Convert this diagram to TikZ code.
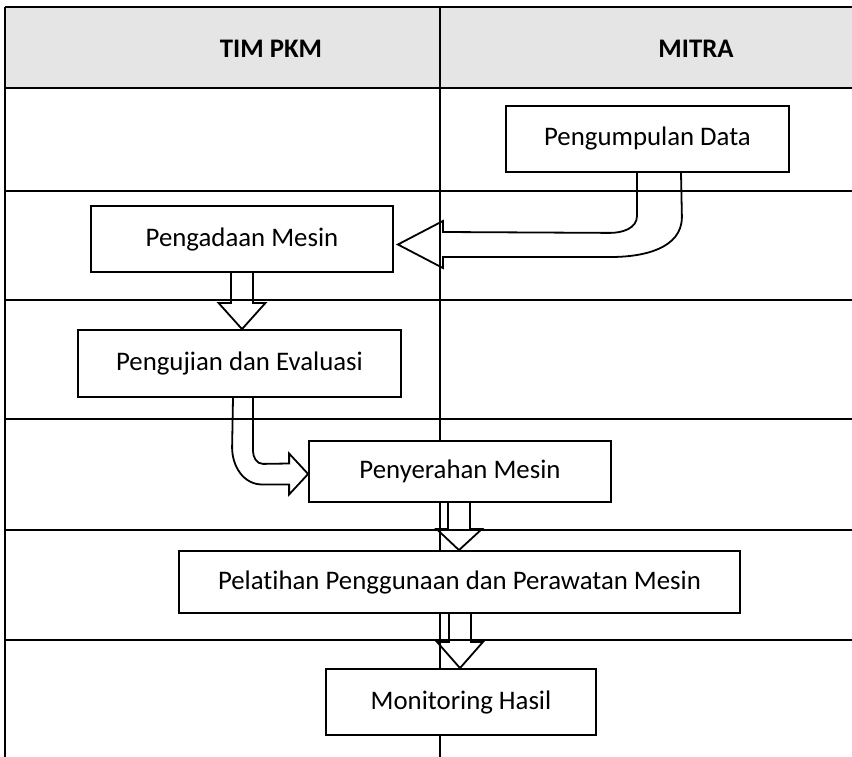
\documentclass[tikz,border=0pt]{standalone}
\usepackage{fontspec}
\setmainfont{Carlito}[Ligatures={NoCommon}]
\usepackage{tikz}
\colorlet{headerFill}{black!10}
\colorlet{ruleColor}{black}

\begin{document}
\begin{tikzpicture}[
  x=1pt,
  y=-1pt,
  every node/.style={
    font=\fontsize{26.8}{32}\selectfont,
  },
  header/.style={
    font=\fontsize{26.8}{32}\selectfont\bfseries,
  },
  stage/.style={
    draw=black,
    fill=white,
    line width=1.8pt,
    inner sep=0pt,
  },
  row rule/.style={
    draw=ruleColor,
    line width=2.5pt,
  },
  lane rule/.style={
    draw=ruleColor,
    line width=1.8pt,
  },
  block arrow/.style={
    draw=black,
    line width=1.8pt,
    line join=miter,
  }
]
\useasboundingbox (0,0) rectangle (852,757);
% table
\fill[headerFill] (5,7) rectangle (852,88);
\draw[row rule, line width=2pt] (5,7) -- (852,7);
\draw[row rule] (5,88) -- (852,88);
\draw[row rule] (5,191) -- (852,191);
\draw[row rule] (5,300) -- (852,300);
\draw[row rule] (5,419) -- (852,419);
\draw[row rule] (5,530) -- (852,530);
\draw[row rule] (5,640) -- (852,640);
\draw[lane rule] (5,7) -- (5,757);
\draw[lane rule] (440,7) -- (440,757);
\node[header] (timPkm) at (271,49) {TIM PKM};
\node[header] (mitra) at (696,49) {MITRA};
% stages
\node[stage, minimum width=283pt, minimum height=66pt] (pengumpulan) at (647.5,139) {Pengumpulan Data};
\node[stage, minimum width=302pt, minimum height=66pt] (pengadaan) at (242,239) {Pengadaan Mesin};
\node[stage, minimum width=323pt, minimum height=67pt] (pengujian) at (239.5,363.5) {Pengujian dan Evaluasi};
\node[stage, minimum width=302pt, minimum height=61pt] (penyerahan) at (460,471.5) {Penyerahan Mesin};
\node[stage, minimum width=561pt, minimum height=62pt] (pelatihan) at (459.5,582) {Pelatihan Penggunaan dan Perawatan Mesin};
\node[stage, minimum width=270pt, minimum height=66pt] (monitoring) at (461,702) {Monitoring Hasil};
\coordinate (tipData) at ([xshift=4pt,yshift=-5.5pt]pengadaan.east);
\coordinate (tipSerah) at ([yshift=-2.5pt]penyerahan.west);
% arrows
\draw[block arrow] ([xshift=-10.5pt]pengumpulan.south) -- ++(0,43) to[out=-90,in=0] ++(-27,17)
  -- ([xshift=45pt,yshift=12.5pt]tipData) -- ([xshift=45pt,yshift=23.5pt]tipData) -- (tipData)
  -- ([xshift=45pt,yshift=-23.5pt]tipData) -- ([xshift=45pt,yshift=-12.5pt]tipData)
  -- ++(168,0) to[out=0,in=-90] ++(71,-40) -- ([xshift=33.5pt]pengumpulan.south);
\draw[block arrow] ([xshift=-11pt]pengadaan.south) -- ++(0,30) -- ++(-12.5,0)
  -- (pengadaan.south |- pengujian.north) -- ([xshift=23.5pt,yshift=-30pt]pengadaan.south)
  -- ++(-12.5,0) -- ([xshift=11pt]pengadaan.south);
\draw[block arrow] ([xshift=13.5pt]pengujian.south) -- ++(0,53) to[out=-90,in=180] ++(10,13)
  -- ([xshift=-19pt,yshift=10.5pt]tipSerah) -- ([xshift=-19pt,yshift=20.5pt]tipSerah) -- (tipSerah)
  -- ([xshift=-19pt,yshift=-20.5pt]tipSerah) -- ([xshift=-19pt,yshift=-10.5pt]tipSerah)
  -- ++(-27,0) to[out=180,in=-90] ++(-30,-37) -- ([xshift=-6.5pt]pengujian.south);
\draw[block arrow] ([xshift=-12pt]penyerahan.south) -- ++(0,26) -- ++(-11.5,0)
  -- ([xshift=-1pt]penyerahan.south |- pelatihan.north) -- ([xshift=22pt,yshift=-26pt]penyerahan.south)
  -- ++(-12,0) -- ([xshift=10pt]penyerahan.south);
\draw[block arrow] ([xshift=-10.5pt]pelatihan.south) -- ++(0,28) -- ++(-12,0)
  -- ([xshift=0.5pt]pelatihan.south |- monitoring.north) -- ([xshift=23.5pt,yshift=-28pt]pelatihan.south)
  -- ++(-12,0) -- ([xshift=11.5pt]pelatihan.south);
\end{tikzpicture}
\end{document}
